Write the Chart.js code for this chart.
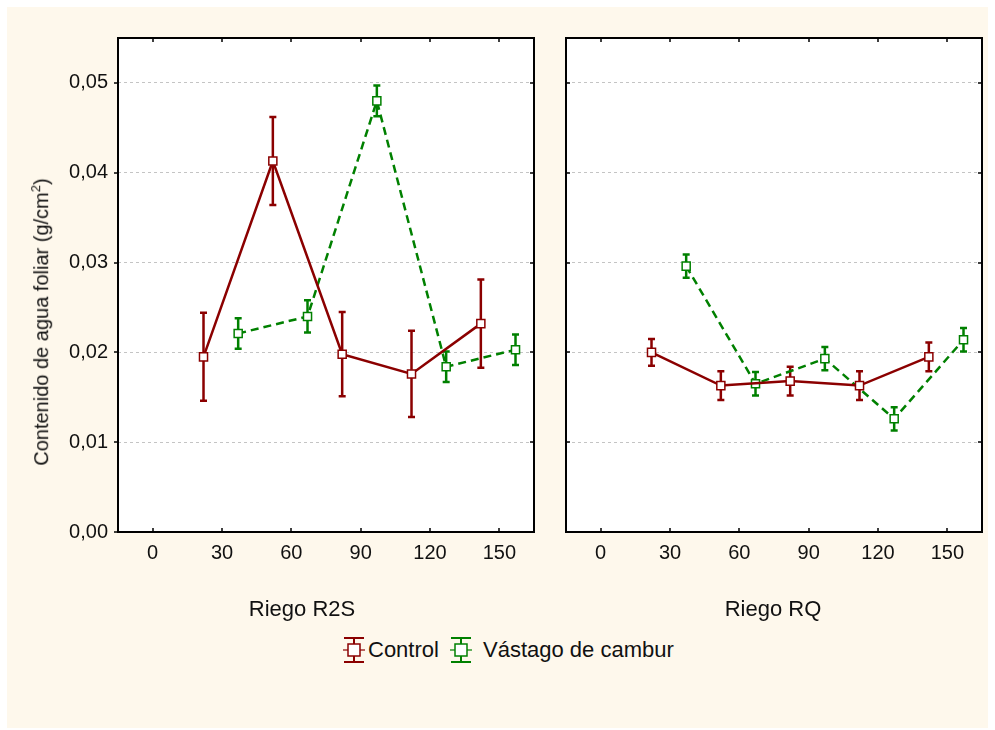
<!DOCTYPE html>
<html>
<head>
<meta charset="utf-8">
<script src="https://cdn.jsdelivr.net/npm/chart.js@4.4.1/dist/chart.umd.min.js"></script>
<style>
  body { margin: 0; background: #fff; }
  #wrap { position: relative; width: 995px; height: 730px; overflow: hidden; }
  #bg { position: absolute; left: 7px; top: 7px; width: 981px; height: 721px; background: #fef8ec; }
  canvas { position: absolute; top: 0; }
  .txt { position: absolute; font-family: Arial, "Liberation Sans", sans-serif; color: #111; white-space: nowrap; line-height: 1; }
</style>
</head>
<body>
<div id="wrap">
  <div id="bg"></div>
  <canvas id="panelR2S" width="545" height="625" style="left:0"></canvas>
  <canvas id="panelRQ" width="450" height="625" style="left:545px"></canvas>
  <div class="txt" style="left:40px;top:322px;font-size:20px;transform:translate(-50%,-50%) rotate(-90deg)">Contenido de agua foliar (g/cm<sup style="font-size:13px">2</sup>)</div>
  <div class="txt" id="titleR2S" style="left:302px;top:609px;font-size:22px;transform:translate(-50%,-50%)"></div>
  <div class="txt" id="titleRQ" style="left:773px;top:609px;font-size:22px;transform:translate(-50%,-50%)"></div>
  <svg style="position:absolute;left:343px;top:636px" width="22" height="28">
    <line x1="0" y1="14" x2="22" y2="14" stroke="#8b0000" stroke-width="1.2"/>
    <line x1="11" y1="2" x2="11" y2="26" stroke="#8b0000" stroke-width="2"/>
    <line x1="1" y1="2" x2="21" y2="2" stroke="#8b0000" stroke-width="2"/>
    <line x1="1" y1="26" x2="21" y2="26" stroke="#8b0000" stroke-width="2"/>
    <rect x="5" y="8" width="12" height="12" fill="#fff" stroke="#8b0000" stroke-width="1.5"/>
  </svg>
  <div class="txt" id="legControl" style="left:368px;top:650px;font-size:22px;transform:translateY(-50%)"></div>
  <svg style="position:absolute;left:450px;top:636px" width="22" height="28">
    <line x1="0" y1="14" x2="22" y2="14" stroke="#008000" stroke-width="1.2"/>
    <line x1="11" y1="2" x2="11" y2="26" stroke="#008000" stroke-width="2"/>
    <line x1="1" y1="2" x2="21" y2="2" stroke="#008000" stroke-width="2"/>
    <line x1="1" y1="26" x2="21" y2="26" stroke="#008000" stroke-width="2"/>
    <rect x="5" y="8" width="12" height="12" fill="#fff" stroke="#008000" stroke-width="1.5"/>
  </svg>
  <div class="txt" id="legVastago" style="left:483px;top:650px;font-size:22px;transform:translateY(-50%)"></div>
</div>
<script>
// days after treatment, drawn a bit apart for each group
const xControl = [22, 52, 82, 112, 142];
const xVastago = [37, 67, 97, 127, 157];
const xTickValues = [0, 30, 60, 90, 120, 150];
const yTickValues = [0, 0.01, 0.02, 0.03, 0.04, 0.05];

const seriesNames = ["Control", "Vástago de cambur"];
const panelNames = ["Riego R2S", "Riego RQ"];

// Riego R2S
const r2sControl = [0.0195, 0.0413, 0.0198, 0.0176, 0.0232];
const r2sControlErr = [0.0049, 0.0049, 0.0047, 0.0048, 0.0049];
const r2sVastago = [0.0221, 0.0240, 0.0480, 0.0184, 0.0203];
const r2sVastagoErr = [0.0017, 0.0018, 0.0017, 0.0017, 0.0017];

// Riego RQ
const rqControl = [0.0200, 0.0163, 0.0168, 0.0163, 0.0195];
const rqControlErr = [0.0015, 0.0016, 0.0016, 0.0016, 0.0016];
const rqVastago = [0.0296, 0.0165, 0.0193, 0.0126, 0.0214];
const rqVastagoErr = [0.0013, 0.0013, 0.0013, 0.0013, 0.0013];

const RED = "#8b0000";
const GREEN = "#008000";

document.getElementById("titleR2S").textContent = panelNames[0];
document.getElementById("titleRQ").textContent = panelNames[1];
document.getElementById("legControl").textContent = seriesNames[0];
document.getElementById("legVastago").textContent = seriesNames[1];

Chart.defaults.font.family = 'Arial, "Liberation Sans", sans-serif';
Chart.defaults.font.size = 20;
Chart.defaults.color = "#111";

function toPoints(xs, ys) {
  return xs.map((x, i) => ({ x, y: ys[i] }));
}

// white plot area, error bars, black frame and the small tick marks
const panelPlugin = {
  id: "panelPlugin",
  beforeDraw(chart) {
    const a = chart.chartArea;
    const ctx = chart.ctx;
    ctx.save();
    ctx.fillStyle = "#fff";
    ctx.fillRect(a.left, a.top, a.right - a.left, a.bottom - a.top);
    ctx.restore();
  },
  beforeDatasetsDraw(chart) {
    const ctx = chart.ctx;
    const ys = chart.scales.y;
    ctx.save();
    chart.data.datasets.forEach((ds, di) => {
      const meta = chart.getDatasetMeta(di);
      ctx.strokeStyle = ds.borderColor;
      ctx.lineWidth = 2.5;
      ctx.setLineDash([]);
      meta.data.forEach((pt, i) => {
        const v = ds.data[i].y;
        const e = ds.errors[i];
        const yTop = ys.getPixelForValue(v + e);
        const yBot = ys.getPixelForValue(v - e);
        ctx.beginPath();
        ctx.moveTo(pt.x, yTop);
        ctx.lineTo(pt.x, yBot);
        ctx.moveTo(pt.x - 3.5, yTop);
        ctx.lineTo(pt.x + 3.5, yTop);
        ctx.moveTo(pt.x - 3.5, yBot);
        ctx.lineTo(pt.x + 3.5, yBot);
        ctx.stroke();
      });
    });
    ctx.restore();
  },
  afterDraw(chart) {
    const a = chart.chartArea;
    const ctx = chart.ctx;
    const outLeft = chart.options.plugins.panelPlugin.outwardLeft;
    ctx.save();
    ctx.strokeStyle = "#000";
    ctx.lineWidth = 1.5;
    ctx.beginPath();
    yTickValues.forEach((v) => {
      const y = Math.round(chart.scales.y.getPixelForValue(v));
      if (outLeft) {
        ctx.moveTo(a.left - 4, y);
        ctx.lineTo(a.left, y);
      } else {
        ctx.moveTo(a.left, y);
        ctx.lineTo(a.left + 4, y);
      }
      ctx.moveTo(a.right - 4, y);
      ctx.lineTo(a.right, y);
    });
    xTickValues.forEach((v) => {
      const x = Math.round(chart.scales.x.getPixelForValue(v));
      ctx.moveTo(x, a.top);
      ctx.lineTo(x, a.top + 4);
      ctx.moveTo(x, a.bottom - 4);
      ctx.lineTo(x, a.bottom);
    });
    ctx.stroke();
    ctx.lineWidth = 2;
    ctx.strokeRect(a.left, a.top, a.right - a.left, a.bottom - a.top);
    ctx.restore();
  },
};

function makePanel(id, control, controlErr, vastago, vastagoErr, withLabels, pad) {
  return new Chart(document.getElementById(id), {
    type: "line",
    data: {
      datasets: [
        {
          label: seriesNames[0],
          data: toPoints(xControl, control),
          errors: controlErr,
          borderColor: RED,
          borderWidth: 2.5,
          pointStyle: "rect",
          pointRadius: 5.7,
          pointBorderWidth: 1.5,
          pointBackgroundColor: "#fff",
          pointBorderColor: RED,
        },
        {
          label: seriesNames[1],
          data: toPoints(xVastago, vastago),
          errors: vastagoErr,
          borderColor: GREEN,
          borderWidth: 2.5,
          borderDash: [8, 5],
          pointStyle: "rect",
          pointRadius: 5.7,
          pointBorderWidth: 1.5,
          pointBackgroundColor: "#fff",
          pointBorderColor: GREEN,
        },
      ],
    },
    options: {
      responsive: false,
      animation: false,
      events: [],
      layout: { autoPadding: false, padding: pad },
      plugins: {
        legend: { display: false },
        tooltip: { enabled: false },
        panelPlugin: { outwardLeft: withLabels },
      },
      scales: {
        x: {
          type: "linear",
          min: -15,
          max: 165,
          afterBuildTicks: (s) => {
            s.ticks = xTickValues.map((v) => ({ value: v }));
          },
          afterFit: (s) => {
            s.height = 93;
          },
          grid: { display: false, drawTicks: false },
          border: { display: false },
          ticks: { padding: 9, maxRotation: 0, autoSkip: false },
        },
        y: {
          min: 0,
          max: 0.055,
          afterBuildTicks: (s) => {
            s.ticks = yTickValues.map((v) => ({ value: v }));
          },
          afterFit: (s) => {
            s.width = withLabels ? 118 : 0;
          },
          grid: { color: "#c4c4c4", lineWidth: 1, drawTicks: false },
          border: { display: false, dash: [3, 3] },
          ticks: {
            display: withLabels,
            padding: 10,
            callback: (v) => v.toFixed(2).replace(".", ","),
          },
        },
      },
    },
    plugins: [panelPlugin],
  });
}

makePanel("panelR2S", r2sControl, r2sControlErr, r2sVastago, r2sVastagoErr, true,
  { left: 0, top: 38, right: 11, bottom: 0 });
makePanel("panelRQ", rqControl, rqControlErr, rqVastago, rqVastagoErr, false,
  { left: 21, top: 38, right: 13, bottom: 0 });
</script>
</body>
</html>
